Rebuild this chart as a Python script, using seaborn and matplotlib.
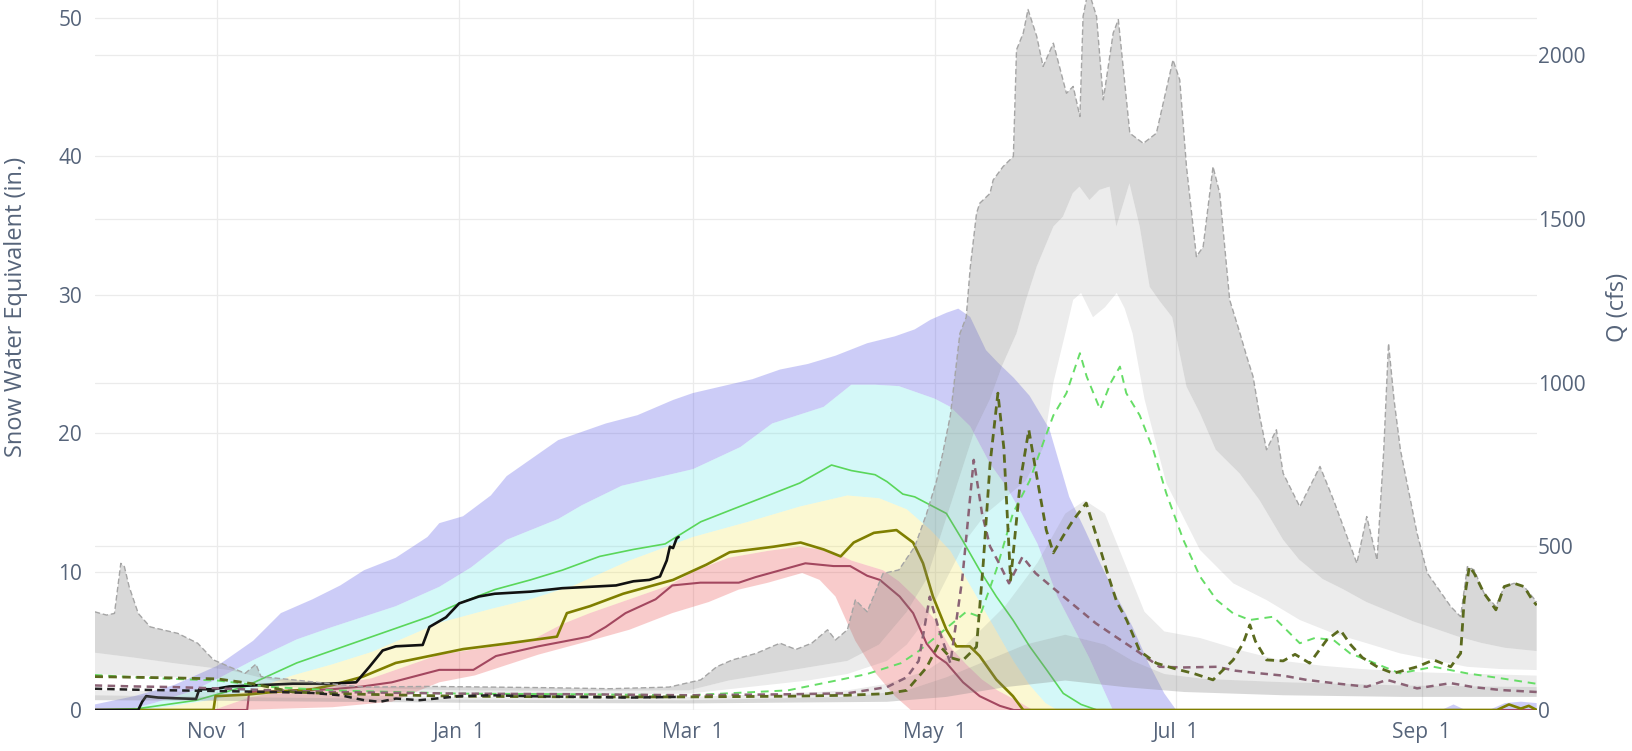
import numpy as np
import pandas as pd
import seaborn as sns
import matplotlib
matplotlib.use("Agg")
import matplotlib.pyplot as plt

# x values are days since the start of the water year (Oct 1)
start = pd.Timestamp("2022-10-01")
tick_dates = ["2022-11-01", "2023-01-01", "2023-03-01", "2023-05-01", "2023-07-01", "2023-09-01"]
tick_labels = ["Nov  1", "Jan  1", "Mar  1", "May  1", "Jul  1", "Sep  1"]
swe_ticks = [0, 10, 20, 30, 40, 50]
q_ticks = [0, 500, 1000, 1500, 2000]

# ---- snow water equivalent envelopes (in.)
swe_max_days = [0, 10, 20, 31, 40, 47, 55, 62, 68, 76, 84, 87, 93, 100, 104, 112, 117, 124, 129, 137,
                146, 151, 160, 166, 173, 180, 187, 195, 202, 207, 211, 215, 218, 221, 225, 228, 232, 236,
                241, 246, 250, 254, 258, 262, 266, 270, 273, 340, 343, 346, 352, 356, 360, 364]
swe_max = [0.4, 1.0, 1.8, 3.2, 5.0, 7.0, 8.0, 9.0, 10.1, 11.0, 12.5, 13.5, 14.0, 15.5, 16.9, 18.5, 19.5,
           20.2, 20.7, 21.3, 22.4, 22.9, 23.5, 23.9, 24.6, 25.0, 25.6, 26.5, 27.0, 27.5, 28.2, 28.7, 29.0,
           28.4, 26.0, 25.1, 24.0, 22.7, 20.3, 15.4, 13.0, 10.5, 8.2, 6.0, 3.4, 1.2, 0, 0, 0.4, 0, 0, 0.5,
           0.6, 0.5]

swe_p90_days = [0, 8, 15, 25, 32, 40, 51, 60, 68, 76, 87, 95, 104, 117, 123, 133, 151, 163, 171, 184,
                191, 197, 203, 208, 212, 216, 221, 226, 230, 234, 238, 243, 247, 251, 257, 364]
swe_p90 = [0, 0, 0.5, 1.4, 2.4, 3.6, 5.1, 6.0, 6.75, 7.5, 8.9, 10.3, 12.3, 13.8, 14.8, 16.2, 17.4, 19.0,
           20.7, 21.9, 23.5, 23.5, 23.4, 22.9, 22.5, 21.9, 20.5, 17.8, 16.2, 14.2, 12.0, 8.2, 6.0, 3.8, 0, 0]

swe_p75_days = [0, 12, 20, 31, 40, 50, 60, 70, 87, 100, 110, 121, 135, 151, 165, 178, 190, 198, 205, 211,
                216, 220, 224, 228, 232, 236, 240, 243, 364]
swe_p75 = [0, 0, 0.3, 0.8, 1.5, 2.5, 3.3, 4.2, 6.3, 7.3, 8.0, 9.0, 10.8, 12.5, 13.6, 14.7, 15.5, 15.3,
           14.5, 13.0, 11.5, 9.5, 7.5, 5.5, 3.5, 1.8, 0.5, 0, 0]

swe_p25_days = [0, 30, 39, 50, 60, 70, 87, 101, 110, 118, 125, 135, 145, 151, 160, 170, 178, 186, 191,
                199, 203, 207, 211.6, 215.8, 220, 224, 228, 232.6, 236.8, 364]
swe_p25 = [0, 0, 0.9, 1.5, 1.8, 2.3, 4.0, 4.6, 5.0, 6.2, 7.0, 8.0, 9.0, 10.0, 11.0, 11.5, 11.8, 11.5,
           10.8, 10.1, 9.3, 8.2, 6.7, 4.6, 3.3, 2.2, 1.4, 0.7, 0, 0]

swe_p10_days = [0, 36, 60, 75, 87, 96, 112, 125, 135, 145.8, 155, 162.6, 170, 178.6, 183, 187, 192, 197,
                202, 206, 364]
swe_p10 = [0, 0, 0.2, 0.6, 2.0, 2.5, 4.0, 5.0, 5.8, 7.0, 7.8, 8.7, 9.2, 9.9, 9.4, 8.2, 5.0, 2.7, 1.0, 0, 0]

# ---- snow water equivalent, single years (in.)
swe_black_days = [0, 11, 12, 13, 16, 20, 25.6, 26.4, 30, 34, 42, 50, 59, 66, 69.3, 72.7, 76, 82.8, 84.5,
                  88.7, 92, 97, 101, 110, 118, 125, 131.6, 136, 140, 142.7, 144.4, 145.2, 146, 146.9, 147.4]
swe_black = [0, 0, 0.6, 1.0, 0.9, 0.85, 0.8, 1.5, 1.5, 1.7, 1.8, 1.9, 1.9, 2.0, 3.1, 4.3, 4.6, 4.7, 6.0,
             6.7, 7.7, 8.2, 8.4, 8.55, 8.8, 8.9, 9.0, 9.3, 9.4, 9.65, 10.8, 11.8, 11.7, 12.4, 12.5]

swe_green_days = [0, 11, 25.6, 38, 51, 68, 84.5, 92, 101, 110, 118, 127.5, 136, 144, 153, 161, 170, 178,
                  186, 191, 197, 200, 204, 207, 215, 219, 223.4, 227.6, 231.8, 236, 240.3, 244.5, 249, 253, 364]
swe_green = [0, 0.1, 0.7, 1.7, 3.4, 5.1, 6.75, 7.7, 8.7, 9.4, 10.1, 11.1, 11.6, 12.0, 13.6, 14.5, 15.5,
             16.4, 17.7, 17.3, 17.0, 16.5, 15.6, 15.4, 14.2, 12.3, 10.1, 8.2, 6.5, 4.6, 2.9, 1.2, 0.4, 0, 0]

swe_olive_days = [0, 30, 30.5, 38, 45, 55, 60, 67.6, 76, 84.5, 93, 104, 116.7, 119.2, 125, 133.4, 146,
                  154.4, 160.3, 171.4, 178.2, 184, 188.3, 191.6, 196.7, 202.4, 206.6, 209.1, 211.6, 215,
                  217.5, 220.9, 223.4, 227.6, 231.8, 234.4, 354, 357, 360, 362, 364]
swe_olive = [0, 0, 1.0, 1.1, 1.3, 1.5, 1.8, 2.4, 3.4, 3.9, 4.4, 4.8, 5.3, 7.0, 7.5, 8.4, 9.4, 10.5, 11.4,
             11.8, 12.1, 11.6, 11.1, 12.1, 12.8, 13.0, 12.1, 10.6, 8.2, 5.8, 4.6, 4.6, 3.9, 2.2, 1.0, 0,
             0, 0.4, 0.1, 0.3, 0]

swe_maroon_days = [0, 38.5, 39, 50, 60, 67.6, 75, 87, 95.6, 101.3, 112, 124.8, 129, 134, 141.6, 145.8,
                   152.9, 162.6, 166.8, 179.4, 186.5, 190.7, 195, 198.2, 203.2, 206.6, 210, 212.5, 215,
                   219.2, 223.4, 228.5, 232, 364]
swe_maroon = [0, 0, 1.3, 1.4, 1.5, 1.7, 2.0, 2.9, 2.9, 3.9, 4.6, 5.3, 6.0, 7.0, 8.0, 9.0, 9.2, 9.2, 9.6,
              10.6, 10.4, 10.4, 9.7, 9.4, 8.2, 7.0, 4.8, 3.9, 3.4, 2.0, 1.0, 0.3, 0, 0]

# ---- streamflow envelopes (cfs)
q_max_days = [0, 3, 5, 6.6, 7.5, 8.7, 11, 14, 21, 26, 30, 34, 38, 40.7, 42, 51, 59, 68, 84, 100,
              115, 130, 145, 153, 157, 161, 167, 171, 173, 177, 181, 185, 187, 190, 192, 195, 199, 203,
              207, 210, 212.5, 214, 216, 218.4, 220, 221, 222.6, 223.4, 226, 226.8, 229.3, 231.9, 232.7,
              234.4, 235.6, 237.8, 239.4, 242, 245.3, 247, 248.7, 249.5, 250.8, 252.9, 254.6, 257.1,
              258.4, 259.6, 261.3, 264.7, 268, 272.2, 273.9, 275.6, 278.1, 279.8, 282.3, 284, 286.5,
              289.1, 290.8, 292.4, 294.1, 295.8, 298.3, 300, 304.2, 309.3, 312.7, 315.2, 318.6, 321.1,
              323.7, 325.4, 326.6, 328, 329.6, 333.8, 336.4, 342.3, 344.8, 346.5, 348.2, 350.7, 353.7,
              355.8, 358.3, 360.8, 364]
q_max = [300, 290, 295, 448, 438, 377, 295, 254, 234, 204, 153, 132, 112, 140, 102, 91, 81, 70, 72, 70,
         68, 65, 70, 92, 132, 153, 173, 194, 204, 185, 204, 245, 214, 245, 336, 300, 417, 428, 499, 600,
         700, 780, 900, 1150, 1200, 1350, 1517, 1548, 1578, 1619, 1660, 1691, 2017, 2068, 2140, 2058,
         1966, 2037, 1884, 1905, 1813, 2119, 2200, 2119, 1864, 2068, 2109, 1966, 1762, 1731, 1762, 1986,
         1925, 1660, 1385, 1415, 1660, 1578, 1253, 1151, 1080, 1019, 897, 795, 856, 723, 621, 744, 642,
         560, 448, 591, 458, 795, 1120, 947, 795, 540, 418, 316, 285, 438, 428, 357, 316, 377, 387, 377,
         330]

q_p90_days = [0, 10, 20, 34, 45, 60, 92, 123, 150, 160, 170, 180, 190, 198, 205, 210, 214, 218, 222, 226,
              229, 232.7, 235, 237.8, 242, 244.4, 246.9, 248.6, 251.1, 253.6, 256.2, 257.9, 261.2, 263.8,
              266.3, 268.8, 272, 275.6, 279, 283, 289, 294, 300, 304, 310, 315, 321, 327, 333, 338, 344,
              350, 356, 364]
q_p90 = [175, 160, 143, 122, 90, 70, 60, 58, 60, 90, 110, 130, 150, 200, 300, 400, 550, 700, 850, 950,
         1050, 1151, 1250, 1355, 1477, 1507, 1579, 1599, 1558, 1589, 1599, 1477, 1609, 1477, 1293, 1250,
         1200, 988, 907, 795, 723, 642, 520, 460, 400, 370, 330, 300, 270, 250, 225, 205, 190, 180]

q_p75_days = [0, 10, 20, 31, 45, 60, 92, 123, 150, 165, 180, 190, 200, 205, 210, 215, 220, 225, 230, 235,
              239.4, 242, 245, 247, 249, 252, 255, 258, 260, 262, 265, 270.5, 279, 287.4, 295.8, 304.2,
              312.7, 321.1, 329.5, 338, 346.4, 355, 364]
q_p75 = [110, 105, 100, 95, 75, 60, 50, 48, 50, 70, 90, 110, 150, 200, 280, 400, 520, 600, 650, 700,
         800, 1000, 1150, 1253, 1274, 1200, 1230, 1274, 1227, 1150, 950, 693, 489, 387, 336, 275, 234,
         204, 173, 153, 132, 125, 122]

q_p25_days = [0, 31, 60, 92, 123, 150, 175, 190, 200, 210, 220, 230, 238, 245, 250, 255, 260, 265, 270,
              279, 290, 300, 310, 320, 335, 350, 364]
q_p25 = [60, 55, 45, 40, 38, 40, 50, 60, 80, 120, 200, 320, 450, 600, 640, 600, 450, 300, 240, 220, 180,
         150, 135, 125, 115, 110, 105]

q_p10_days = [0, 31, 92, 150, 190, 205, 215, 225, 235, 245, 255, 262, 270, 280, 300, 330, 364]
q_p10 = [45, 40, 32, 30, 40, 60, 100, 150, 200, 230, 200, 150, 110, 95, 85, 75, 70]

q_min_days = [0, 31, 92, 150, 200, 215, 230, 245, 260, 275, 300, 330, 364]
q_min = [30, 28, 22, 20, 25, 40, 70, 90, 70, 55, 45, 40, 40]

# ---- streamflow, single years (cfs)
q_green_days = [0, 10, 20, 31, 45, 60, 92, 123, 150, 175, 188, 195, 203.5, 208, 212, 216, 220, 223.4,
                227.6, 231.8, 236, 239.4, 242, 245.3, 248.7, 250.4, 253.8, 256.5, 258.8, 260.4, 263.8,
                267.2, 270.5, 274.8, 279, 283.2, 287.4, 291.6, 297.5, 304.2, 308, 312.7, 316.9, 321.1,
                329.5, 338, 346.4, 354.9, 364]
q_green = [107, 100, 95, 90, 70, 60, 50, 48, 45, 60, 92, 110, 143, 180, 220, 260, 300, 285, 428, 601,
           700, 815, 900, 968, 1090, 1019, 918, 1000, 1049, 968, 900, 795, 662, 520, 408, 336, 295, 275,
           285, 204, 220, 214, 173, 153, 112, 132, 112, 97, 80]

q_olive_days = [0, 10, 20, 31, 40, 50, 60, 92, 123, 150, 175, 190, 200, 205, 210, 213, 216, 219, 222.6,
                224.3, 226, 228, 229.5, 231.2, 233.7, 235.8, 238, 240.2, 242, 244.4, 247, 250.3, 252.9,
                255.4, 258, 260.5, 263.8, 268, 273, 277.3, 282.3, 287.4, 289.9, 291.6, 293, 295.8, 300,
                303, 306.7, 311, 314.4, 317, 320, 324, 327.8, 333.8, 338, 342.3, 344.8, 345.7, 347,
                348.2, 350.7, 353.7, 355.8, 358.3, 360.8, 362.9, 364]
q_olive = [102, 100, 98, 95, 80, 55, 50, 42, 40, 40, 42, 45, 50, 60, 130, 200, 160, 150, 193, 448, 750,
           968, 800, 397, 703, 856, 700, 550, 480, 530, 580, 632, 530, 428, 330, 275, 180, 143, 125, 112,
           92, 153, 204, 260, 210, 153, 150, 170, 143, 214, 245, 200, 160, 130, 112, 132, 153, 132, 173,
           336, 438, 418, 357, 306, 377, 387, 377, 336, 320]

q_maroon_days = [0, 10, 20, 31, 45, 60, 92, 123, 150, 175, 190, 200, 205, 208, 210.8, 213, 216, 219,
                 221.9, 224, 226, 228.3, 230.8, 234.2, 237.5, 242.5, 247.6, 252.7, 257.7, 262.8, 268.8,
                 275, 283.2, 288, 294.1, 300, 305.9, 312.7, 321.1, 326.2, 333.8, 342.3, 348, 354.9, 364]
q_maroon = [75, 72, 70, 66, 60, 55, 50, 48, 45, 48, 51, 70, 100, 150, 346, 250, 143, 400, 764, 600, 500,
            448, 387, 468, 418, 367, 316, 265, 224, 183, 132, 130, 132, 120, 112, 105, 92, 82, 71, 92,
            66, 82, 70, 61, 55]

q_black_days = [0, 10, 20, 31, 45, 55, 62, 68, 72, 76, 82, 92, 100, 110, 123, 135, 147]
q_black = [65, 62, 60, 58, 55, 52, 45, 30, 25, 35, 30, 42, 45, 42, 40, 38, 40]

SWE_TOP = 51.3
Q_TOP = 2169
TEXT = "#56647a"
GRID = "#ebebeb"


def band(ax, top_days, top, bot_days, bot, color):
    xs = np.concatenate([np.asarray(top_days, float), np.asarray(bot_days, float)[::-1]])
    ys = np.concatenate([np.asarray(top, float), np.asarray(bot, float)[::-1]])
    ax.fill(xs, ys, color=color, linewidth=0, zorder=1)


def line(ax, days, vals, color, lw, dash=None, z=3):
    kw = {"linestyle": (0, dash)} if dash else {}
    sns.lineplot(x=days, y=vals, ax=ax, color=color, linewidth=lw, estimator=None,
                 sort=False, zorder=z, **kw)


sns.set_theme(style="white")
plt.rcParams["font.family"] = ["Open Sans", "DejaVu Sans"]

fig = plt.figure(figsize=(16.32, 7.51), dpi=100)
ax = fig.add_axes([0.058, 0.0546, 0.8836, 0.9454])
ax2 = ax.twinx()

tick_days = [(pd.Timestamp(d) - start).days for d in tick_dates]

# grid lines of both y axes live on the lower axes, under everything
for v in swe_ticks:
    ax.axhline(v, color=GRID, lw=0.9, zorder=0)
for q in q_ticks:
    ax.axhline(q * SWE_TOP / Q_TOP, color=GRID, lw=0.9, zorder=0)
for d in tick_days:
    ax.axvline(d, color=GRID, lw=0.9, zorder=0)

# SWE percentile bands
band(ax, swe_max_days, swe_max, swe_p90_days, swe_p90, (0.35, 0.35, 0.9, 0.3))
band(ax, swe_p90_days, swe_p90, swe_p75_days, swe_p75, (0.4, 0.9, 0.9, 0.28))
band(ax, swe_p75_days, swe_p75, swe_p25_days, swe_p25, (0.95, 0.9, 0.3, 0.25))
band(ax, swe_p25_days, swe_p25, swe_p10_days, swe_p10, (0.9, 0.2, 0.2, 0.25))

line(ax, swe_green_days, swe_green, "#5ad65a", 1.2)
line(ax, swe_maroon_days, swe_maroon, "#a3475f", 1.5)
line(ax, swe_olive_days, swe_olive, "#7f7f00", 1.9)
line(ax, swe_black_days, swe_black, "#111111", 1.9, z=4)

# flow percentile bands
band(ax2, q_max_days, q_max, q_p90_days, q_p90, (0.5, 0.5, 0.5, 0.3))
band(ax2, q_p90_days, q_p90, q_p75_days, q_p75, (0.5, 0.5, 0.5, 0.15))
band(ax2, q_p25_days, q_p25, q_p10_days, q_p10, (0.5, 0.5, 0.5, 0.15))
band(ax2, q_p10_days, q_p10, q_min_days, q_min, (0.5, 0.5, 0.5, 0.3))

line(ax2, q_max_days, q_max, "#a5a5a5", 1.0, dash=(4, 2))
line(ax2, q_green_days, q_green, "#66dd66", 1.4, dash=(4, 3))
line(ax2, q_maroon_days, q_maroon, "#8a6275", 1.8, dash=(3, 2.2))
line(ax2, q_olive_days, q_olive, "#5b6a1e", 2.0, dash=(3, 2))
line(ax2, q_black_days, q_black, "#222222", 1.8, dash=(3, 2))

ax.set_xlim(0, 364)
ax.set_ylim(0, SWE_TOP)
ax2.set_ylim(0, Q_TOP)
ax.set_xticks(tick_days, tick_labels)
ax.set_yticks(swe_ticks)
ax2.set_yticks(q_ticks)
ax.set_xlabel("")
ax2.set_xlabel("")

for a in (ax, ax2):
    for s in a.spines.values():
        s.set_visible(False)
    a.grid(False)
ax.tick_params(axis="both", length=0, labelsize=15, labelcolor=TEXT)
ax.tick_params(axis="y", pad=9)
ax.tick_params(axis="x", pad=9)
ax2.tick_params(axis="y", length=0, labelsize=15, labelcolor=TEXT, pad=1)

ax.set_ylabel("Snow Water Equivalent (in.)", fontsize=17, color=TEXT)
ax.yaxis.set_label_coords(-0.0463, 0.567)
ax2.set_ylabel("Q (cfs)", fontsize=17, color=TEXT)
ax2.yaxis.set_label_coords(1.048, 0.567)

fig.savefig("out.png", dpi=100)
